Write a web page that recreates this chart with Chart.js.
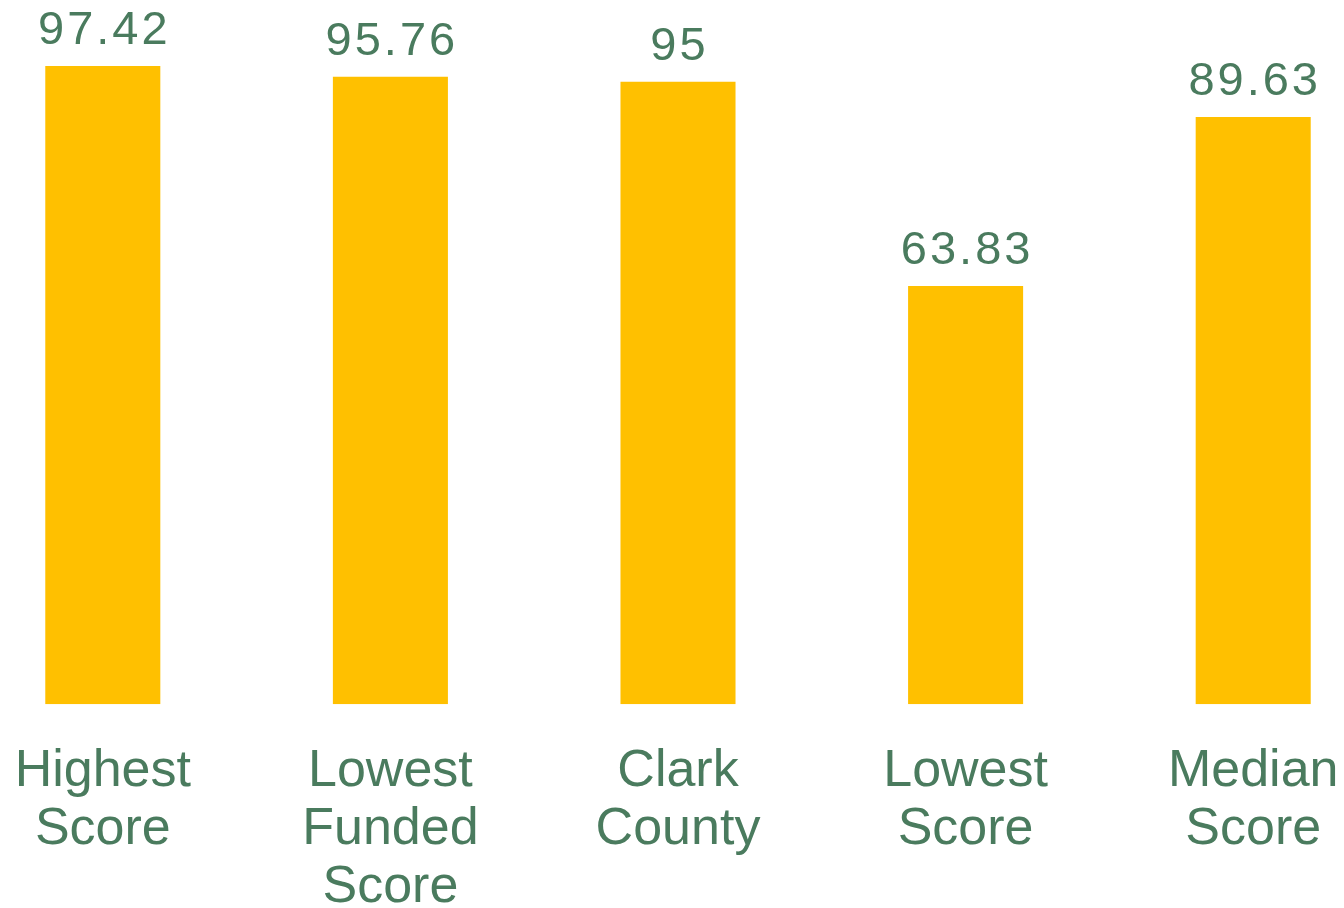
<!DOCTYPE html>
<html>
<head>
<meta charset="utf-8">
<script src="https://cdn.jsdelivr.net/npm/chart.js@4"></script>
<style>
  html, body { margin: 0; padding: 0; background: #fff; overflow: hidden; }
  #wrap { position: absolute; left: -41px; top: 0; width: 1438px; height: 955px; }
</style>
</head>
<body>
<div id="wrap"><canvas id="myChart"></canvas></div>
<script>
const categories = [
  ["Highest", "Score"],
  ["Lowest", "Funded", "Score"],
  ["Clark", "County"],
  ["Lowest", "Score"],
  ["Median", "Score"]
];
const scores = [97.42, 95.76, 95, 63.83, 89.63];

const textColor = "#4a7b5e";
const barColor = "#ffc000";

// draws the value above each bar
const valueLabels = {
  id: "valueLabels",
  afterDatasetsDraw: (chart) => {
    const ctx = chart.ctx;
    const meta = chart.getDatasetMeta(0);
    ctx.save();
    ctx.font = "47px 'Liberation Sans', Arial, sans-serif";
    ctx.fillStyle = textColor;
    ctx.textAlign = "center";
    ctx.textBaseline = "alphabetic";
    ctx.letterSpacing = "3px";
    meta.data.forEach((bar, i) => {
      ctx.fillText(String(scores[i]), bar.x + 1.5, bar.y - 22);
    });
    ctx.restore();
  }
};

const config = {
  type: "bar",
  data: {
    labels: categories,
    datasets: [
      {
        data: scores,
        backgroundColor: barColor,
        barPercentage: 0.4,
        categoryPercentage: 1,
      },
    ],
  },
  options: {
    responsive: true,
    maintainAspectRatio: false,
    animation: false,
    layout: { padding: { top: 49, bottom: 0, left: 0, right: 0 } },
    plugins: {
      legend: { display: false },
      tooltip: { enabled: false },
    },
    scales: {
      y: { display: false, min: 0, max: 100 },
      x: {
        grid: { display: false, drawTicks: false },
        border: { display: false },
        ticks: {
          color: textColor,
          padding: 38,
          maxRotation: 0,
          autoSkip: false,
          font: { family: "'Liberation Sans', Arial, sans-serif", size: 52, lineHeight: 1.12 },
        },
      },
    },
  },
  plugins: [valueLabels],
};

const myChart = new Chart(document.getElementById("myChart"), config);
</script>
</body>
</html>
